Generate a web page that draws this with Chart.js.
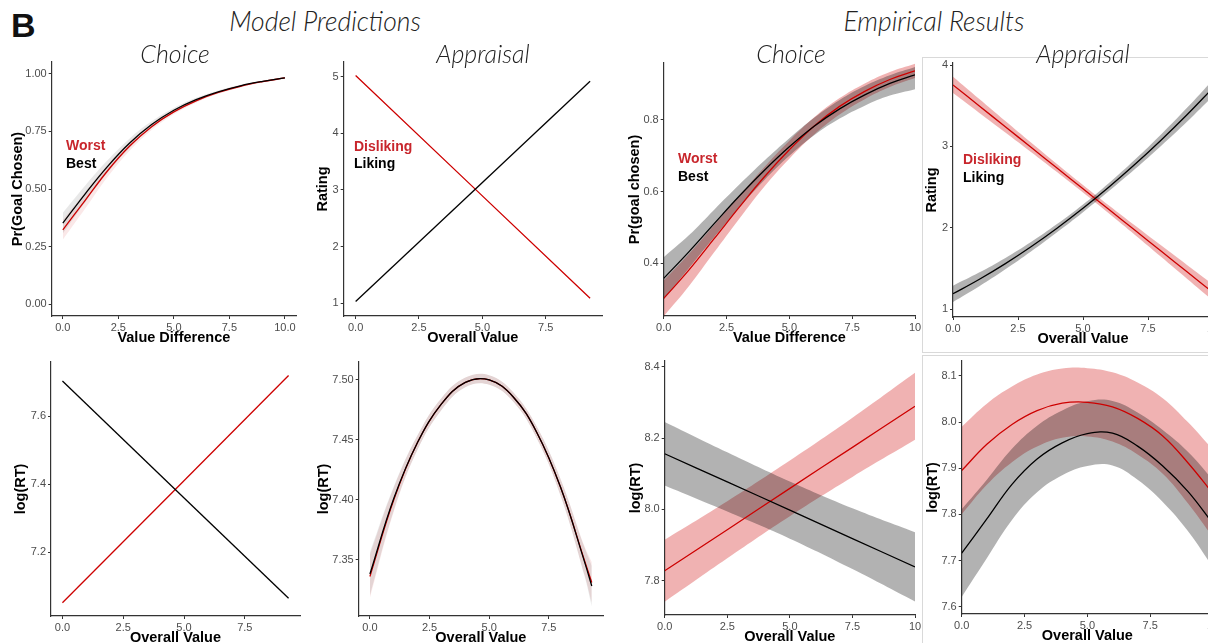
<!DOCTYPE html>
<html>
<head>
<meta charset="utf-8">
<script src="https://cdn.jsdelivr.net/npm/chart.js@4.4.1/dist/chart.umd.min.js"></script>
<style>
html, body { margin: 0; padding: 0; background: #fff; }
body { width: 1208px; height: 643px; overflow: hidden; position: relative; font-family: "Liberation Sans", Arial, sans-serif; }
canvas { position: absolute; }
.t { position: absolute; white-space: nowrap; line-height: 1; }
.head { font-family: Lato, Roboto, "Liberation Sans", sans-serif; font-style: italic; font-weight: 300; color: #222; }
.lab { font-weight: bold; font-size: 14px; }
.frame { position: absolute; border: 1px solid #d9d9d9; }
</style>
</head>
<body>
<div class="frame" style="left:922px; top:57px; width:320px; height:294px;"></div>
<div class="frame" style="left:922px; top:355px; width:320px; height:320px;"></div>
<script>
// ---- data ----

// Model predictions: Choice (value difference 0..10)
const mcX = [0, 1, 2, 3, 4, 5, 6, 7, 8, 9, 10];
const mcBest = [0.352, 0.478, 0.596, 0.698, 0.779, 0.841, 0.887, 0.921, 0.947, 0.966, 0.981];
const mcBestLo = [0.307, 0.442, 0.569, 0.678, 0.765, 0.831, 0.879, 0.915, 0.942, 0.962, 0.977];
const mcBestHi = [0.397, 0.514, 0.623, 0.718, 0.793, 0.851, 0.895, 0.927, 0.952, 0.97, 0.985];
const mcWorst = [0.323, 0.45, 0.577, 0.685, 0.77, 0.834, 0.882, 0.918, 0.945, 0.965, 0.981];
const mcWorstLo = [0.28, 0.414, 0.55, 0.665, 0.756, 0.824, 0.874, 0.912, 0.94, 0.961, 0.977];
const mcWorstHi = [0.366, 0.486, 0.604, 0.705, 0.784, 0.844, 0.89, 0.924, 0.95, 0.969, 0.985];

// Model predictions: Appraisal rating (overall value 0..9.25)
const maX = [0, 9.25];
const maLiking = [1.03, 4.92];
const maDisliking = [5.02, 1.09];

// Model predictions: Choice log(RT)
const mrX = [0, 9.3];
const mrBest = [7.704, 7.064];
const mrWorst = [7.051, 7.72];

// Model predictions: Appraisal log(RT)
const mqX = [0, 1, 2, 3, 4, 5, 6, 7, 8, 9, 9.3];
const mqLiking = [7.338, 7.401, 7.448, 7.48, 7.498, 7.5, 7.486, 7.456, 7.41, 7.348, 7.328];
const mqLikingLo = [7.32, 7.391, 7.442, 7.475, 7.494, 7.496, 7.482, 7.451, 7.403, 7.336, 7.311];
const mqLikingHi = [7.356, 7.411, 7.454, 7.485, 7.502, 7.504, 7.49, 7.461, 7.417, 7.36, 7.345];
const mqDisliking = [7.336, 7.4, 7.448, 7.48, 7.498, 7.5, 7.486, 7.456, 7.41, 7.349, 7.331];
const mqDislikingLo = [7.318, 7.39, 7.442, 7.475, 7.494, 7.496, 7.482, 7.451, 7.403, 7.337, 7.314];
const mqDislikingHi = [7.354, 7.41, 7.454, 7.485, 7.502, 7.504, 7.49, 7.461, 7.417, 7.361, 7.348];

// Empirical: Choice
const ecX = [0, 1, 2, 3, 4, 5, 6, 7, 8, 9, 10];
const ecBest = [0.358, 0.432, 0.51, 0.587, 0.659, 0.725, 0.783, 0.831, 0.87, 0.902, 0.926];
const ecBestLo = [0.299, 0.386, 0.472, 0.555, 0.632, 0.7, 0.758, 0.804, 0.84, 0.868, 0.886];
const ecBestHi = [0.417, 0.478, 0.549, 0.619, 0.686, 0.749, 0.807, 0.856, 0.895, 0.925, 0.948];
const ecWorst = [0.302, 0.381, 0.468, 0.556, 0.641, 0.717, 0.784, 0.838, 0.88, 0.913, 0.937];
const ecWorstLo = [0.252, 0.336, 0.43, 0.524, 0.614, 0.692, 0.76, 0.815, 0.858, 0.892, 0.917];
const ecWorstHi = [0.352, 0.426, 0.506, 0.588, 0.668, 0.742, 0.808, 0.861, 0.902, 0.934, 0.957];

// Empirical: Appraisal rating
const eaX = [0, 1, 2, 3, 4, 5, 6, 7, 8, 9, 10];
const eaLiking = [1.19, 1.366, 1.558, 1.768, 1.996, 2.24, 2.502, 2.781, 3.077, 3.389, 3.72];
const eaLikingLo = [1.09, 1.281, 1.488, 1.71, 1.946, 2.193, 2.452, 2.723, 3.007, 3.304, 3.62];
const eaLikingHi = [1.29, 1.451, 1.628, 1.826, 2.046, 2.287, 2.552, 2.839, 3.147, 3.474, 3.82];
const eaDisliking = [3.755, 3.5, 3.245, 2.99, 2.735, 2.48, 2.225, 1.97, 1.715, 1.46, 1.205];
const eaDislikingLo = [3.655, 3.415, 3.175, 2.932, 2.685, 2.433, 2.175, 1.912, 1.645, 1.375, 1.105];
const eaDislikingHi = [3.855, 3.585, 3.315, 3.048, 2.785, 2.527, 2.275, 2.028, 1.785, 1.545, 1.305];

// Empirical: Choice log(RT)
const erX = [0, 2.5, 5, 7.5, 10];
const erBest = [8.156, 8.077, 7.998, 7.918, 7.839];
const erBestLo = [8.067, 7.994, 7.918, 7.833, 7.742];
const erBestHi = [8.245, 8.16, 8.078, 8.003, 7.936];
const erWorst = [7.828, 7.943, 8.059, 8.174, 8.289];
const erWorstLo = [7.741, 7.863, 7.981, 8.091, 8.195];
const erWorstHi = [7.915, 8.023, 8.137, 8.257, 8.383];

// Empirical: Appraisal log(RT)
const eqX = [0, 1, 2, 3, 4, 5, 6, 7, 8, 9, 10];
const eqLiking = [7.716, 7.79, 7.865, 7.92, 7.955, 7.975, 7.976, 7.948, 7.905, 7.85, 7.78];
const eqLikingLo = [7.621, 7.705, 7.788, 7.848, 7.885, 7.905, 7.906, 7.875, 7.827, 7.764, 7.685];
const eqLikingHi = [7.811, 7.875, 7.942, 7.992, 8.025, 8.045, 8.046, 8.021, 7.983, 7.936, 7.875];
const eqDisliking = [7.895, 7.952, 7.995, 8.025, 8.041, 8.043, 8.033, 8.008, 7.97, 7.912, 7.845];
const eqDislikingLo = [7.8, 7.864, 7.913, 7.947, 7.966, 7.969, 7.958, 7.93, 7.888, 7.824, 7.75];
const eqDislikingHi = [7.99, 8.04, 8.077, 8.103, 8.116, 8.117, 8.108, 8.086, 8.052, 8.0, 7.94];

// tick values and labels
const ticksVD = [0, 2.5, 5, 7.5, 10];
const labelsVD = ['0.0', '2.5', '5.0', '7.5', '10.0'];
const labelsVD2 = ['0.0', '2.5', '5.0', '7.5', '10'];
const ticksOV = [0, 2.5, 5, 7.5];
const labelsOV = ['0.0', '2.5', '5.0', '7.5'];
const ticksProb = [0, 0.25, 0.5, 0.75, 1];
const labelsProb = ['0.00', '0.25', '0.50', '0.75', '1.00'];
const ticksRate5 = [1, 2, 3, 4, 5];
const ticksRate4 = [1, 2, 3, 4];
const ticksPg = [0.4, 0.6, 0.8];
const labelsPg = ['0.4', '0.6', '0.8'];
const ticksRtA = [7.2, 7.4, 7.6];
const labelsRtA = ['7.2', '7.4', '7.6'];
const ticksRtB = [7.35, 7.4, 7.45, 7.5];
const labelsRtB = ['7.35', '7.40', '7.45', '7.50'];
const ticksRtC = [7.8, 8.0, 8.2, 8.4];
const labelsRtC = ['7.8', '8.0', '8.2', '8.4'];
const ticksRtD = [7.6, 7.7, 7.8, 7.9, 8.0, 8.1];
const labelsRtD = ['7.6', '7.7', '7.8', '7.9', '8.0', '8.1'];

// ---- drawing ----
const RED = '#cd0000';
const LABEL_RED = '#c8262c';
const FAINT_RED = 'rgba(205,0,0,0.09)';
const FAINT_GRAY = 'rgba(0,0,0,0.09)';
const BAND_RED = 'rgba(205,0,0,0.3)';
const BAND_GRAY = 'rgba(0,0,0,0.3)';

Chart.defaults.font.family = '"Liberation Sans", Arial, sans-serif';

function pts(xs, ys) {
  return xs.map((x, i) => ({ x: x, y: ys[i] }));
}

function lineSet(xs, ys, color) {
  return { data: pts(xs, ys), borderColor: color, borderWidth: 1.3, pointRadius: 0,
           fill: false, tension: 0.4 };
}

function bandSet(xs, ys, fillColor) {
  return { data: pts(xs, ys), borderWidth: 0, borderColor: 'rgba(0,0,0,0)', pointRadius: 0,
           fill: fillColor ? '+1' : false, backgroundColor: fillColor || 'rgba(0,0,0,0)',
           tension: 0.4 };
}

function axis(range, ticks, labels, title, fitFn) {
  return {
    type: 'linear', min: range[0], max: range[1],
    afterFit: fitFn,
    afterBuildTicks: function(s) { s.ticks = ticks.map(v => ({ value: v })); },
    ticks: { callback: (v, i) => labels[i], autoSkip: false, maxRotation: 0,
             padding: 2, color: '#4d4d4d', font: { size: 11 } },
    grid: { display: true, drawOnChartArea: false, drawTicks: true, tickLength: 3, tickColor: '#333' },
    border: { display: true, color: '#333', width: 1.2 },
    title: { display: true, text: title, color: '#000', padding: 0,
             font: { size: 14.5, weight: 'bold' } }
  };
}

function panel(box, o) {
  const padT = 12, padR = 16, hx = 31;
  const left = o.titleX - 8.7;
  const wy = box.L - left;
  const w = Math.round(box.R - box.L + wy + padR);
  const h = Math.round(box.B - box.T + padT + hx);
  const cv = document.createElement('canvas');
  cv.width = w; cv.height = h;
  cv.style.left = left + 'px';
  cv.style.top = (box.T - padT) + 'px';
  cv.style.width = w + 'px';
  cv.style.height = h + 'px';
  document.body.appendChild(cv);

  // first dataset is drawn on top
  const ds = [lineSet(o.x, o.black, '#000'), lineSet(o.x, o.red, RED)];
  if (o.blackHi) {
    ds.push(bandSet(o.x, o.blackHi, o.grayFill), bandSet(o.x, o.blackLo));
    ds.push(bandSet(o.x, o.redHi, o.redFill), bandSet(o.x, o.redLo));
  }

  new Chart(cv, {
    type: 'line',
    data: { datasets: ds },
    options: {
      responsive: false, animation: false, devicePixelRatio: 1,
      layout: { padding: { top: padT, right: padR, bottom: 0, left: 0 } },
      plugins: { legend: { display: false }, tooltip: { enabled: false } },
      scales: {
        x: axis(o.xRange, o.xTicks, o.xLabels, o.xTitle, s => { s.height = hx; }),
        y: axis(o.yRange, o.yTicks, o.yLabels, o.yTitle, s => { s.width = wy; })
      }
    }
  });
}

panel({ L: 52, T: 62, R: 296, B: 316 }, {
  titleX: 18, x: mcX, black: mcBest, red: mcWorst,
  blackLo: mcBestLo, blackHi: mcBestHi, redLo: mcWorstLo, redHi: mcWorstHi,
  grayFill: FAINT_GRAY, redFill: FAINT_RED,
  xRange: [-0.5, 10.5], xTicks: ticksVD, xLabels: labelsVD, xTitle: 'Value Difference',
  yRange: [-0.05, 1.05], yTicks: ticksProb, yLabels: labelsProb, yTitle: 'Pr(Goal Chosen)'
});

panel({ L: 344, T: 62, R: 602, B: 316 }, {
  titleX: 323, x: maX, black: maLiking, red: maDisliking,
  xRange: [-0.47, 9.72], xTicks: ticksOV, xLabels: labelsOV, xTitle: 'Overall Value',
  yRange: [0.775, 5.26], yTicks: ticksRate5, yLabels: ticksRate5.map(String), yTitle: 'Rating'
});

panel({ L: 664, T: 63, R: 915, B: 316 }, {
  titleX: 635, x: ecX, black: ecBest, red: ecWorst,
  blackLo: ecBestLo, blackHi: ecBestHi, redLo: ecWorstLo, redHi: ecWorstHi,
  grayFill: BAND_GRAY, redFill: BAND_RED,
  xRange: [0, 10], xTicks: ticksVD, xLabels: labelsVD2, xTitle: 'Value Difference',
  yRange: [0.253, 0.959], yTicks: ticksPg, yLabels: labelsPg, yTitle: 'Pr(goal chosen)'
});

panel({ L: 953, T: 63, R: 1213, B: 317 }, {
  titleX: 931.7, x: eaX, black: eaLiking, red: eaDisliking,
  blackLo: eaLikingLo, blackHi: eaLikingHi, redLo: eaDislikingLo, redHi: eaDislikingHi,
  grayFill: BAND_GRAY, redFill: BAND_RED,
  xRange: [0, 10], xTicks: ticksVD, xLabels: labelsVD2, xTitle: 'Overall Value',
  yRange: [0.905, 4.025], yTicks: ticksRate4, yLabels: ticksRate4.map(String), yTitle: 'Rating'
});

panel({ L: 51, T: 362, R: 300, B: 616 }, {
  titleX: 20.7, x: mrX, black: mrBest, red: mrWorst,
  xRange: [-0.47, 9.77], xTicks: ticksOV, xLabels: labelsOV, xTitle: 'Overall Value',
  yRange: [7.012, 7.76], yTicks: ticksRtA, yLabels: labelsRtA, yTitle: 'log(RT)'
});

panel({ L: 359, T: 362, R: 603, B: 616 }, {
  titleX: 324, x: mqX, black: mqLiking, red: mqDisliking,
  blackLo: mqLikingLo, blackHi: mqLikingHi, redLo: mqDislikingLo, redHi: mqDislikingHi,
  grayFill: FAINT_GRAY, redFill: FAINT_RED,
  xRange: [-0.47, 9.77], xTicks: ticksOV, xLabels: labelsOV, xTitle: 'Overall Value',
  yRange: [7.303, 7.515], yTicks: ticksRtB, yLabels: labelsRtB, yTitle: 'log(RT)'
});

panel({ L: 665, T: 361, R: 915, B: 615 }, {
  titleX: 636, x: erX, black: erBest, red: erWorst,
  blackLo: erBestLo, blackHi: erBestHi, redLo: erWorstLo, redHi: erWorstHi,
  grayFill: BAND_GRAY, redFill: BAND_RED,
  xRange: [0, 10], xTicks: ticksVD, xLabels: labelsVD2, xTitle: 'Overall Value',
  yRange: [7.704, 8.416], yTicks: ticksRtC, yLabels: labelsRtC, yTitle: 'log(RT)'
});

panel({ L: 962, T: 361, R: 1213, B: 614 }, {
  titleX: 933, x: eqX, black: eqLiking, red: eqDisliking,
  blackLo: eqLikingLo, blackHi: eqLikingHi, redLo: eqDislikingLo, redHi: eqDislikingHi,
  grayFill: BAND_GRAY, redFill: BAND_RED,
  xRange: [0, 10], xTicks: ticksVD, xLabels: labelsVD2, xTitle: 'Overall Value',
  yRange: [7.584, 8.1325], yTicks: ticksRtD, yLabels: labelsRtD, yTitle: 'log(RT)'
});

// ---- text ----
function txt(s, x, baseline, size, cls, color, center, k) {
  const d = document.createElement('div');
  d.className = 't ' + cls;
  d.textContent = s;
  d.style.fontSize = size + 'px';
  d.style.top = (baseline - k * size) + 'px';
  d.style.left = x + 'px';
  if (color) d.style.color = color;
  if (center) d.style.transform = 'translateX(-50%)';
  document.body.appendChild(d);
}

txt('B', 11, 37, 34, 'lab', '#111', false, 0.846);
txt('Model Predictions', 325, 32, 26.5, 'head', null, true, 0.887);
txt('Empirical Results', 934, 32, 26.5, 'head', null, true, 0.887);
txt('Choice', 175, 63, 25, 'head', null, true, 0.887);
txt('Appraisal', 483, 63, 25, 'head', null, true, 0.887);
txt('Choice', 791, 63, 25, 'head', null, true, 0.887);
txt('Appraisal', 1083, 63, 25, 'head', null, true, 0.887);

txt('Worst', 66, 150, 14, 'lab', LABEL_RED, false, 0.846);
txt('Best', 66, 167.7, 14, 'lab', '#000', false, 0.846);
txt('Disliking', 354, 151, 14, 'lab', LABEL_RED, false, 0.846);
txt('Liking', 354, 168.3, 14, 'lab', '#000', false, 0.846);
txt('Worst', 678, 163.3, 14, 'lab', LABEL_RED, false, 0.846);
txt('Best', 678, 180.7, 14, 'lab', '#000', false, 0.846);
txt('Disliking', 963, 164, 14, 'lab', LABEL_RED, false, 0.846);
txt('Liking', 963, 181.7, 14, 'lab', '#000', false, 0.846);
</script>
</body>
</html>
